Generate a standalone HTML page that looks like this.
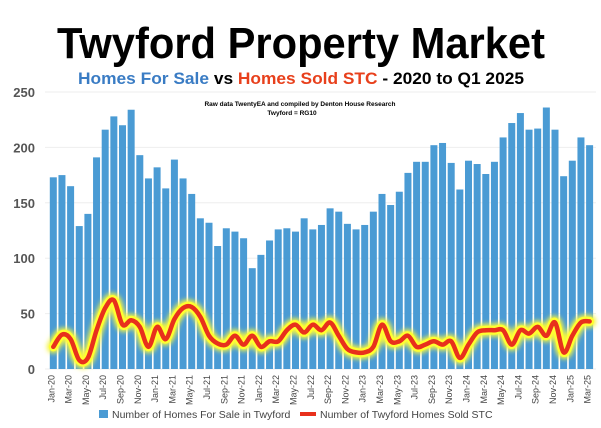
<!DOCTYPE html>
<html><head><meta charset="utf-8"><style>
html,body{margin:0;padding:0;background:#fff;}
svg{display:block;font-family:"Liberation Sans",sans-serif;}
</style></head><body>
<svg id="s" width="601" height="428" viewBox="0 0 601 428" xmlns="http://www.w3.org/2000/svg">
<defs><filter id="b" x="-5%" y="-50%" width="110%" height="200%"><feGaussianBlur stdDeviation="2.5"/></filter></defs>
<text x="301" y="58" text-anchor="middle" font-size="44" font-weight="bold" textLength="488" lengthAdjust="spacingAndGlyphs" fill="#000">Twyford Property Market</text>
<text x="301" y="84" text-anchor="middle" font-size="17" font-weight="bold" textLength="446" lengthAdjust="spacingAndGlyphs"><tspan fill="#3a7cc4">Homes For Sale</tspan><tspan fill="#000"> vs </tspan><tspan fill="#e8401c">Homes Sold STC</tspan><tspan fill="#000"> - 2020 to Q1 2025</tspan></text>
<text x="300" y="106" text-anchor="middle" font-size="6.5" font-weight="bold" fill="#000">Raw data TwentyEA and compiled by Denton House Research</text>
<text x="292" y="115" text-anchor="middle" font-size="6.5" font-weight="bold" fill="#000">Twyford  = RG10</text>
<g id="g"></g>
<rect x="99" y="410" width="9" height="8" fill="#4a9bd4"/>
<text x="112" y="418" font-size="10.5" fill="#444">Number of Homes For Sale in Twyford</text>
<line x1="300" y1="414" x2="316" y2="414" stroke="#e8301c" stroke-width="4"/>
<text x="320" y="418" font-size="10.5" fill="#444">Number of Twyford Homes Sold STC</text>
</svg>
<script>
var bars=[173,175,165,129,140,191,216,228,220,234,193,172,182,163,189,172,158,136,132,111,127,124,118,91,103,116,126,127,124,136,126,130,145,142,131,126,130,142,158,148,160,177,187,187,202,204,186,162,188,185,176,187,209,222,231,216,217,236,216,174,188,209,202];
var ln=[20,31,27,8,10,35,55,62,40,44,38,20,38,27,45,55,56,47,30,23,22,30,22,30,20,25,25,35,40,33,40,35,42,30,18,15,15,20,40,25,25,30,20,22,25,22,25,10,22,33,35,35,35,22,35,32,38,30,42,15,30,42,43];
var m=["Jan","Feb","Mar","Apr","May","Jun","Jul","Aug","Sep","Oct","Nov","Dec"];
var x0=49,sw=8.65,y0=369,k=1.108,h='';
for(var v=0;v<=250;v+=50){var y=y0-v*k;h+='<line x1="45" x2="596" y1="'+y+'" y2="'+y+'" stroke="#eee" stroke-width="1"/>';
h+='<text x="35" y="'+(y+5)+'" text-anchor="end" font-size="13" font-weight="bold" fill="#555">'+v+'</text>';}
bars.forEach(function(b,i){var x=x0+i*sw+0.8;h+='<rect x="'+x+'" y="'+(y0-b*k)+'" width="7" height="'+(b*k)+'" fill="#4a9bd4"/>';
if(i%2==0){var cx=x+4.5;var lab=m[i%12]+"-"+(20+Math.floor(i/12));h+='<text transform="translate('+cx+',375) rotate(-90)" text-anchor="end" font-size="9" fill="#444">'+lab+'</text>';}});
var p=ln.map(function(v,i){return [x0+i*sw+4.3,y0-v*k];});
var d='M'+p[0][0]+','+p[0][1];
for(var i=0;i<p.length-1;i++){var a=p[Math.max(i-1,0)],b=p[i],c=p[i+1],e=p[Math.min(i+2,p.length-1)];
d+=' C'+(b[0]+(c[0]-a[0])/6)+','+(b[1]+(c[1]-a[1])/6)+' '+(c[0]-(e[0]-b[0])/6)+','+(c[1]-(e[1]-b[1])/6)+' '+c[0]+','+c[1];}
h+='<path d="'+d+'" fill="none" stroke="#f5f542" stroke-width="13" stroke-linejoin="round" stroke-linecap="round" filter="url(#b)"/>';
h+='<path d="'+d+'" fill="none" stroke="#ffff30" stroke-width="9" stroke-linejoin="round" stroke-linecap="round"/>';
h+='<path d="'+d+'" fill="none" stroke="#e8301c" stroke-width="4.5" stroke-linejoin="round" stroke-linecap="round"/>';
document.getElementById('g').innerHTML=h;
</script>
</body></html>
